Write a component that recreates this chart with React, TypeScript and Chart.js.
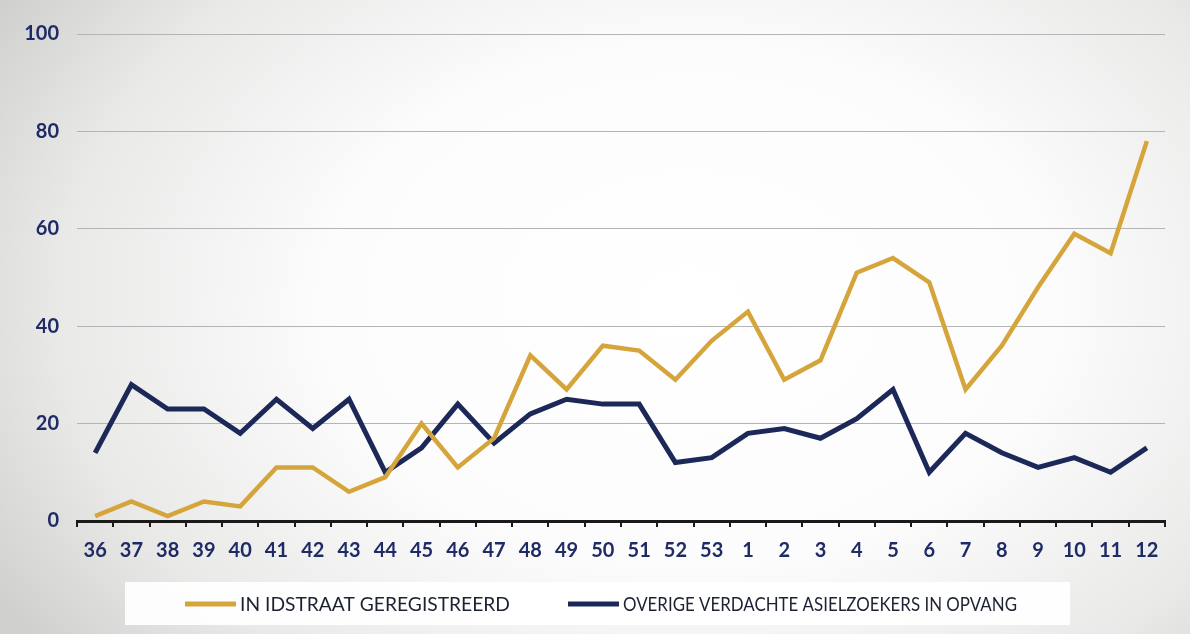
import React, { useEffect, useRef } from 'react';
import { Chart, registerables } from 'chart.js';

Chart.register(...registerables);

const weeks = [
  '36', '37', '38', '39', '40', '41', '42', '43', '44', '45', '46', '47', '48', '49', '50', '51', '52', '53',
  '1', '2', '3', '4', '5', '6', '7', '8', '9', '10', '11', '12',
];
const idstraatGeregistreerd = [1, 4, 1, 4, 3, 11, 11, 6, 9, 20, 11, 17, 34, 27, 36, 35, 29, 37, 43, 29, 33, 51, 54, 49, 27, 36, 48, 59, 55, 78];
const overigeVerdachten = [14, 28, 23, 23, 18, 25, 19, 25, 10, 15, 24, 16, 22, 25, 24, 24, 12, 13, 18, 19, 17, 21, 27, 10, 18, 14, 11, 13, 10, 15];
const seriesLabels = ['IN IDSTRAAT GEREGISTREERD', 'OVERIGE VERDACHTE ASIELZOEKERS IN OPVANG'];
const yMin = 0;
const yMax = 100;
const yStep = 20;

const GOLD = '#d5a53b';
const NAVY = '#1b2858';
const TICK_COLOR = '#1f2b66';

// legend layout (style only): swatch x position and max text width per item
const legendSlots = [
  { x: 185, maxText: 270 },
  { x: 568, maxText: 394 },
];

const boxLegend = {
  id: 'boxLegend',
  beforeDraw(chart: any) {
    const ctx = chart.ctx;
    ctx.save();
    ctx.font = '20px Lato';
    const sw = 51;
    const gapText = 4;
    const cy = 604;
    ctx.fillStyle = 'rgba(255,255,255,0.93)';
    ctx.fillRect(125, cy - 22, 945, 43);
    ctx.textBaseline = 'middle';
    ctx.textAlign = 'left';
    chart.data.datasets.forEach((ds: any, i: number) => {
      const slot = legendSlots[i];
      ctx.fillStyle = ds.borderColor;
      ctx.fillRect(slot.x, cy - 2.5, sw, 5);
      ctx.fillStyle = '#1d2232';
      const w = ctx.measureText(ds.label).width;
      ctx.fillText(ds.label, slot.x + sw + gapText, cy + 1, Math.min(w, slot.maxText));
    });
    ctx.restore();
  },
};

export default function App() {
  const canvasRef = useRef<HTMLCanvasElement | null>(null);

  useEffect(() => {
    document.body.style.margin = '0';
    const canvas = canvasRef.current;
    if (!canvas) return;
    const chart = new Chart(canvas, {
      type: 'line',
      data: {
        labels: weeks,
        datasets: [
          {
            label: seriesLabels[0],
            data: idstraatGeregistreerd,
            borderColor: GOLD,
            backgroundColor: GOLD,
            borderWidth: 4.5,
            pointRadius: 0,
            tension: 0,
            borderJoinStyle: 'miter',
          },
          {
            label: seriesLabels[1],
            data: overigeVerdachten,
            borderColor: NAVY,
            backgroundColor: NAVY,
            borderWidth: 5,
            pointRadius: 0,
            tension: 0,
            borderJoinStyle: 'miter',
          },
        ],
      },
      options: {
        animation: false,
        responsive: true,
        maintainAspectRatio: false,
        layout: { padding: { top: 34, right: 25, left: 0, bottom: 73 } },
        plugins: {
          legend: { display: false },
          tooltip: { enabled: false },
          title: { display: false },
        },
        scales: {
          x: {
            type: 'category',
            offset: true,
            afterFit: (scale: any) => {
              scale.height = 40;
            },
            border: { display: true, color: '#1a1a1a', width: 3 },
            grid: {
              display: true,
              offset: true,
              drawOnChartArea: false,
              drawTicks: true,
              tickLength: 6,
              color: '#1a1a1a',
              lineWidth: 2,
            },
            ticks: {
              color: TICK_COLOR,
              font: { family: 'Lato', size: 20, weight: 'bold' },
              padding: 12,
              maxRotation: 0,
              autoSkip: false,
            },
          },
          y: {
            min: yMin,
            max: yMax,
            afterFit: (scale: any) => {
              scale.width = 77;
            },
            border: { display: false },
            grid: {
              color: '#b4b4b4',
              lineWidth: 1,
              drawTicks: false,
            },
            ticks: {
              stepSize: yStep,
              color: TICK_COLOR,
              font: { family: 'Lato', size: 20, weight: 'bold' },
              padding: 18,
            },
          },
        },
      },
      plugins: [boxLegend],
    });
    return () => chart.destroy();
  }, []);

  return (
    <div
      style={{
        position: 'fixed',
        left: 0,
        top: 0,
        width: 1190,
        height: 634,
        background:
          'radial-gradient(ellipse 68% 90% at 58% 48%, #ffffff 0%, #fcfcfc 45%, #e9e9e8 78%, #d0d0ce 100%)',
      }}
    >
      <canvas ref={canvasRef} />
    </div>
  );
}
